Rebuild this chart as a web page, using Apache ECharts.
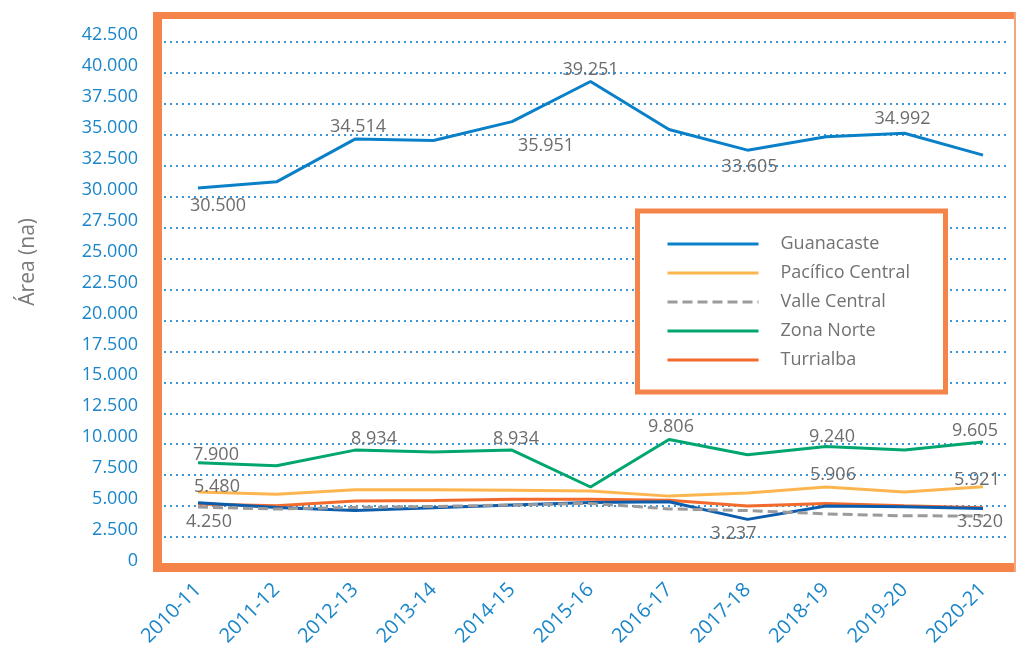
<!DOCTYPE html>
<html>
<head>
<meta charset="utf-8">
<script src="https://cdn.jsdelivr.net/npm/echarts@6/dist/echarts.min.js"></script>
<style>
  html, body { margin: 0; padding: 0; background: #fff; }
  #chart { width: 1016px; height: 649px; }
</style>
</head>
<body>
<div id="chart"></div>
<script>
var years = ["2010-11", "2011-12", "2012-13", "2013-14", "2014-15", "2015-16",
  "2016-17", "2017-18", "2018-19", "2019-20", "2020-21"];
var guanacaste = [30500, 31000, 34514, 34400, 35951, 39251, 35300, 33605, 34700, 34992, 33200];
var pacificoCentral = [5480, 5300, 5680, 5680, 5630, 5570, 5150, 5410, 5906, 5490, 5921];
var valleCentral = [4250, 4090, 4220, 4300, 4420, 4550, 4100, 3960, 3690, 3530, 3520];
var zonaNorte = [7900, 7650, 8934, 8780, 8934, 5900, 9806, 8550, 9240, 8940, 9605];
var turrialba = [4500, 4360, 4740, 4790, 4900, 4900, 4820, 4340, 4550, 4360, 4200];
// linea sin entrada en la leyenda
var otraRegion = [4600, 4220, 3960, 4200, 4420, 4630, 4680, 3237, 4340, 4280, 4140];
var legendNames = ["Guanacaste", "Pacífico Central", "Valle Central", "Zona Norte", "Turrialba"];

// donde va cada etiqueta de valor: indice -> [posicion, dx, dy]
var spotsGuanacaste = { 0: ["bottom", 20, 4], 2: ["top", 3, 2], 4: ["bottom", 34, 10], 5: ["top", 0, 2], 7: ["bottom", 2, 3], 9: ["top", -2, 0] };
var spotsZona = { 0: ["top", 18, 6], 2: ["top", 19, 3], 4: ["top", 4, 3], 6: ["top", 2, 1], 8: ["top", 6, 4], 10: ["top", -8, 3] };
var spotsPacifico = { 0: ["top", 19, 9], 8: ["top", 7, 2], 10: ["top", -6, 7] };
var spotsValle = { 0: ["bottom", 11, 1], 10: ["bottom", -3, -8] };
var spotsOtra = { 7: ["bottom", -14, 0] };

var FONT = "Open Sans";
var ORANGE = "#F5844B";
var BLUE_TXT = "#1A86C9";

function fmt(v) {
  return String(v).replace(/\B(?=(\d{3})+(?!\d))/g, ".");
}

function withLabels(values, spots) {
  return values.map(function (v, i) {
    var s = spots[i];
    if (!s) return v;
    return {
      value: v,
      symbol: "circle",
      symbolSize: 0,
      label: {
        show: true,
        position: s[0],
        offset: [s[1], s[2]],
        formatter: function (p) { return fmt(p.value); },
        color: "#6d6d6d",
        fontSize: 18,
        fontFamily: FONT,
      },
    };
  });
}

function lineSeries(name, values, spots, color, dashed, z) {
  return {
    name: name,
    type: "line",
    xAxisIndex: 1,
    yAxisIndex: 1,
    data: withLabels(values, spots),
    symbol: "none",
    showSymbol: true,
    showAllSymbol: true,
    z: z,
    lineStyle: { color: color, width: 3, type: dashed ? [10, 5] : "solid" },
    itemStyle: { color: color },
    emphasis: { disabled: true },
  };
}

var chart = echarts.init(document.getElementById("chart"), null, { renderer: "canvas" });
var option = {
  animation: false,
  textStyle: { fontFamily: FONT },
  grid: [
    { left: 164, right: 6, top: 42, bottom: 81 },
    { left: 198, right: 33, top: 42, bottom: 81 },
  ],
  legend: {
    data: legendNames,
    orient: "vertical",
    left: 666,
    top: 235,
    padding: 0,
    itemWidth: 91,
    itemHeight: 18,
    itemGap: 11,
    z: 20,
    lineStyle: { width: 3 },
    itemStyle: { opacity: 0 },
    textStyle: {
      color: "#727272",
      fontSize: 18,
      fontFamily: FONT,
      padding: [0, 0, 0, 17],
    },
  },
  xAxis: [
    { gridIndex: 0, type: "value", show: false, min: 0, max: 1 },
    {
      gridIndex: 1,
      type: "category",
      boundaryGap: false,
      data: years,
      axisLine: { show: false },
      axisTick: { show: false },
      axisLabel: {
        rotate: 45,
        margin: 28,
        interval: 0,
        color: BLUE_TXT,
        fontSize: 20,
        fontFamily: FONT,
      },
    },
  ],
  yAxis: [
    {
      gridIndex: 0,
      type: "value",
      min: 0,
      max: 42500,
      interval: 2500,
      axisLine: { show: false },
      axisTick: { show: false },
      axisLabel: {
        margin: 26,
        color: BLUE_TXT,
        fontSize: 18,
        fontFamily: FONT,
        verticalAlign: "bottom",
        lineHeight: 14,
        formatter: function (v) { return fmt(v); },
      },
      splitLine: {
        show: true,
        lineStyle: { color: "#3A96D4", width: 2, type: [2, 4] },
      },
    },
    { gridIndex: 1, type: "value", min: 0, max: 42500, show: false },
  ],
  graphic: [
    {
      type: "text",
      left: 18,
      top: 218,
      rotation: Math.PI / 2,
      style: { text: "Área (na)", fill: "#7a7a7a", fontSize: 21, fontFamily: FONT },
    },
    // recuadro de la leyenda
    {
      type: "rect",
      z: 3,
      shape: { x: 637.5, y: 211, width: 308, height: 181 },
      style: { fill: "#fff", stroke: ORANGE, lineWidth: 5 },
    },
    // marco naranja del area de grafico
    { type: "rect", z: 10, shape: { x: 153, y: 12, width: 9, height: 560 }, style: { fill: ORANGE } },
    { type: "rect", z: 10, shape: { x: 153, y: 12, width: 863, height: 7 }, style: { fill: ORANGE } },
    { type: "rect", z: 10, shape: { x: 153, y: 563, width: 863, height: 9 }, style: { fill: ORANGE } },
    { type: "rect", z: 10, shape: { x: 1014, y: 12, width: 2, height: 560 }, style: { fill: "#F7A57C" } },
  ],
  series: [
    lineSeries("Turrialba", turrialba, {}, "#F26A2C", false, 2),
    lineSeries("Otra región", otraRegion, spotsOtra, "#0B5DAE", false, 3),
    lineSeries("Valle Central", valleCentral, spotsValle, "#9B9B9D", true, 4),
    lineSeries("Pacífico Central", pacificoCentral, spotsPacifico, "#FDB64F", false, 5),
    lineSeries("Zona Norte", zonaNorte, spotsZona, "#00A66E", false, 6),
    lineSeries("Guanacaste", guanacaste, spotsGuanacaste, "#0A80C9", false, 7),
  ],
};
chart.setOption(option, true);
window.addEventListener("resize", function () {
  chart.resize();
});
</script>
</body>
</html>
